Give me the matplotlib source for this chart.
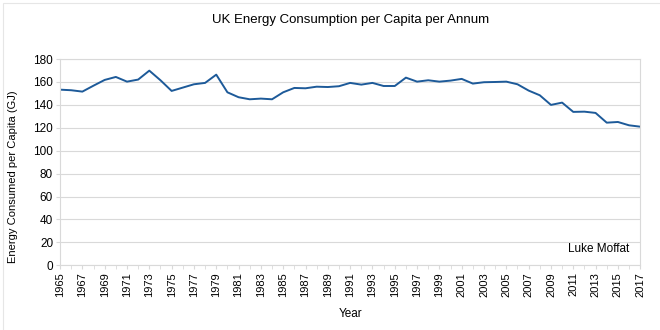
import numpy as np
import matplotlib.pyplot as plt
from matplotlib.patches import Rectangle

plt.rcParams['font.family'] = ['Liberation Sans', 'DejaVu Sans']

# UK energy consumption per capita (GJ)
years = np.arange(1965, 2018)
energy = [153.3, 152.8, 151.6, 156.8, 161.8, 164.4, 160.3, 162.1, 169.9, 161.5,
          152.2, 155.1, 158.0, 159.2, 166.4, 151.0, 146.7, 144.9, 145.5, 144.9,
          151.0, 154.8, 154.5, 155.9, 155.6, 156.3, 159.2, 157.7, 159.2, 156.5,
          156.5, 163.8, 160.3, 161.5, 160.3, 161.2, 162.7, 158.6, 159.8, 160.0,
          160.3, 158.0, 152.5, 148.4, 140.0, 142.0, 133.9, 134.1, 133.0, 124.5,
          125.1, 122.2, 121.0]
xticks = np.arange(1965, 2018, 2)
yticks = np.arange(0, 181, 20)

grid_c = '#d9d9d9'
fig = plt.figure(figsize=(6.6, 3.3), dpi=100)
ax = fig.add_axes([0.091, 0.196, 0.879, 0.625])

ax.plot(years, energy, color='#1d5a99', lw=1.4)

ax.set_xlim(1965, 2017)
ax.set_ylim(0, 180)
ax.set_xticks(xticks)
ax.set_xticks(years, minor=True)
ax.set_xticklabels([str(y) for y in xticks], rotation=90, fontsize=8)
ax.set_yticks(yticks)
ax.tick_params(axis='y', labelsize=8.5, length=3, color=grid_c, pad=2)
ax.tick_params(axis='x', which='both', length=3, color=grid_c, pad=2)
ax.grid(axis='y', color=grid_c, lw=0.8)
for s in ax.spines.values():
    s.set_color(grid_c)

ax.set_title('UK Energy Consumption per Capita per Annum', fontsize=9.5, pad=26)
ax.set_xlabel('Year', fontsize=8.5, labelpad=8)
ax.set_ylabel('Energy Consumed per Capita (GJ)', fontsize=8)
ax.yaxis.set_label_coords(-0.072, 0.43)
ax.text(2016, 14, 'Luke Moffat', ha='right', va='center', fontsize=8.5)

fig.patches.append(Rectangle((0.005, -0.1), 1.2, 1.09, transform=fig.transFigure,
                             fill=False, edgecolor='#e6e6e6', lw=0.8))

fig.savefig('out.png', dpi=100)
